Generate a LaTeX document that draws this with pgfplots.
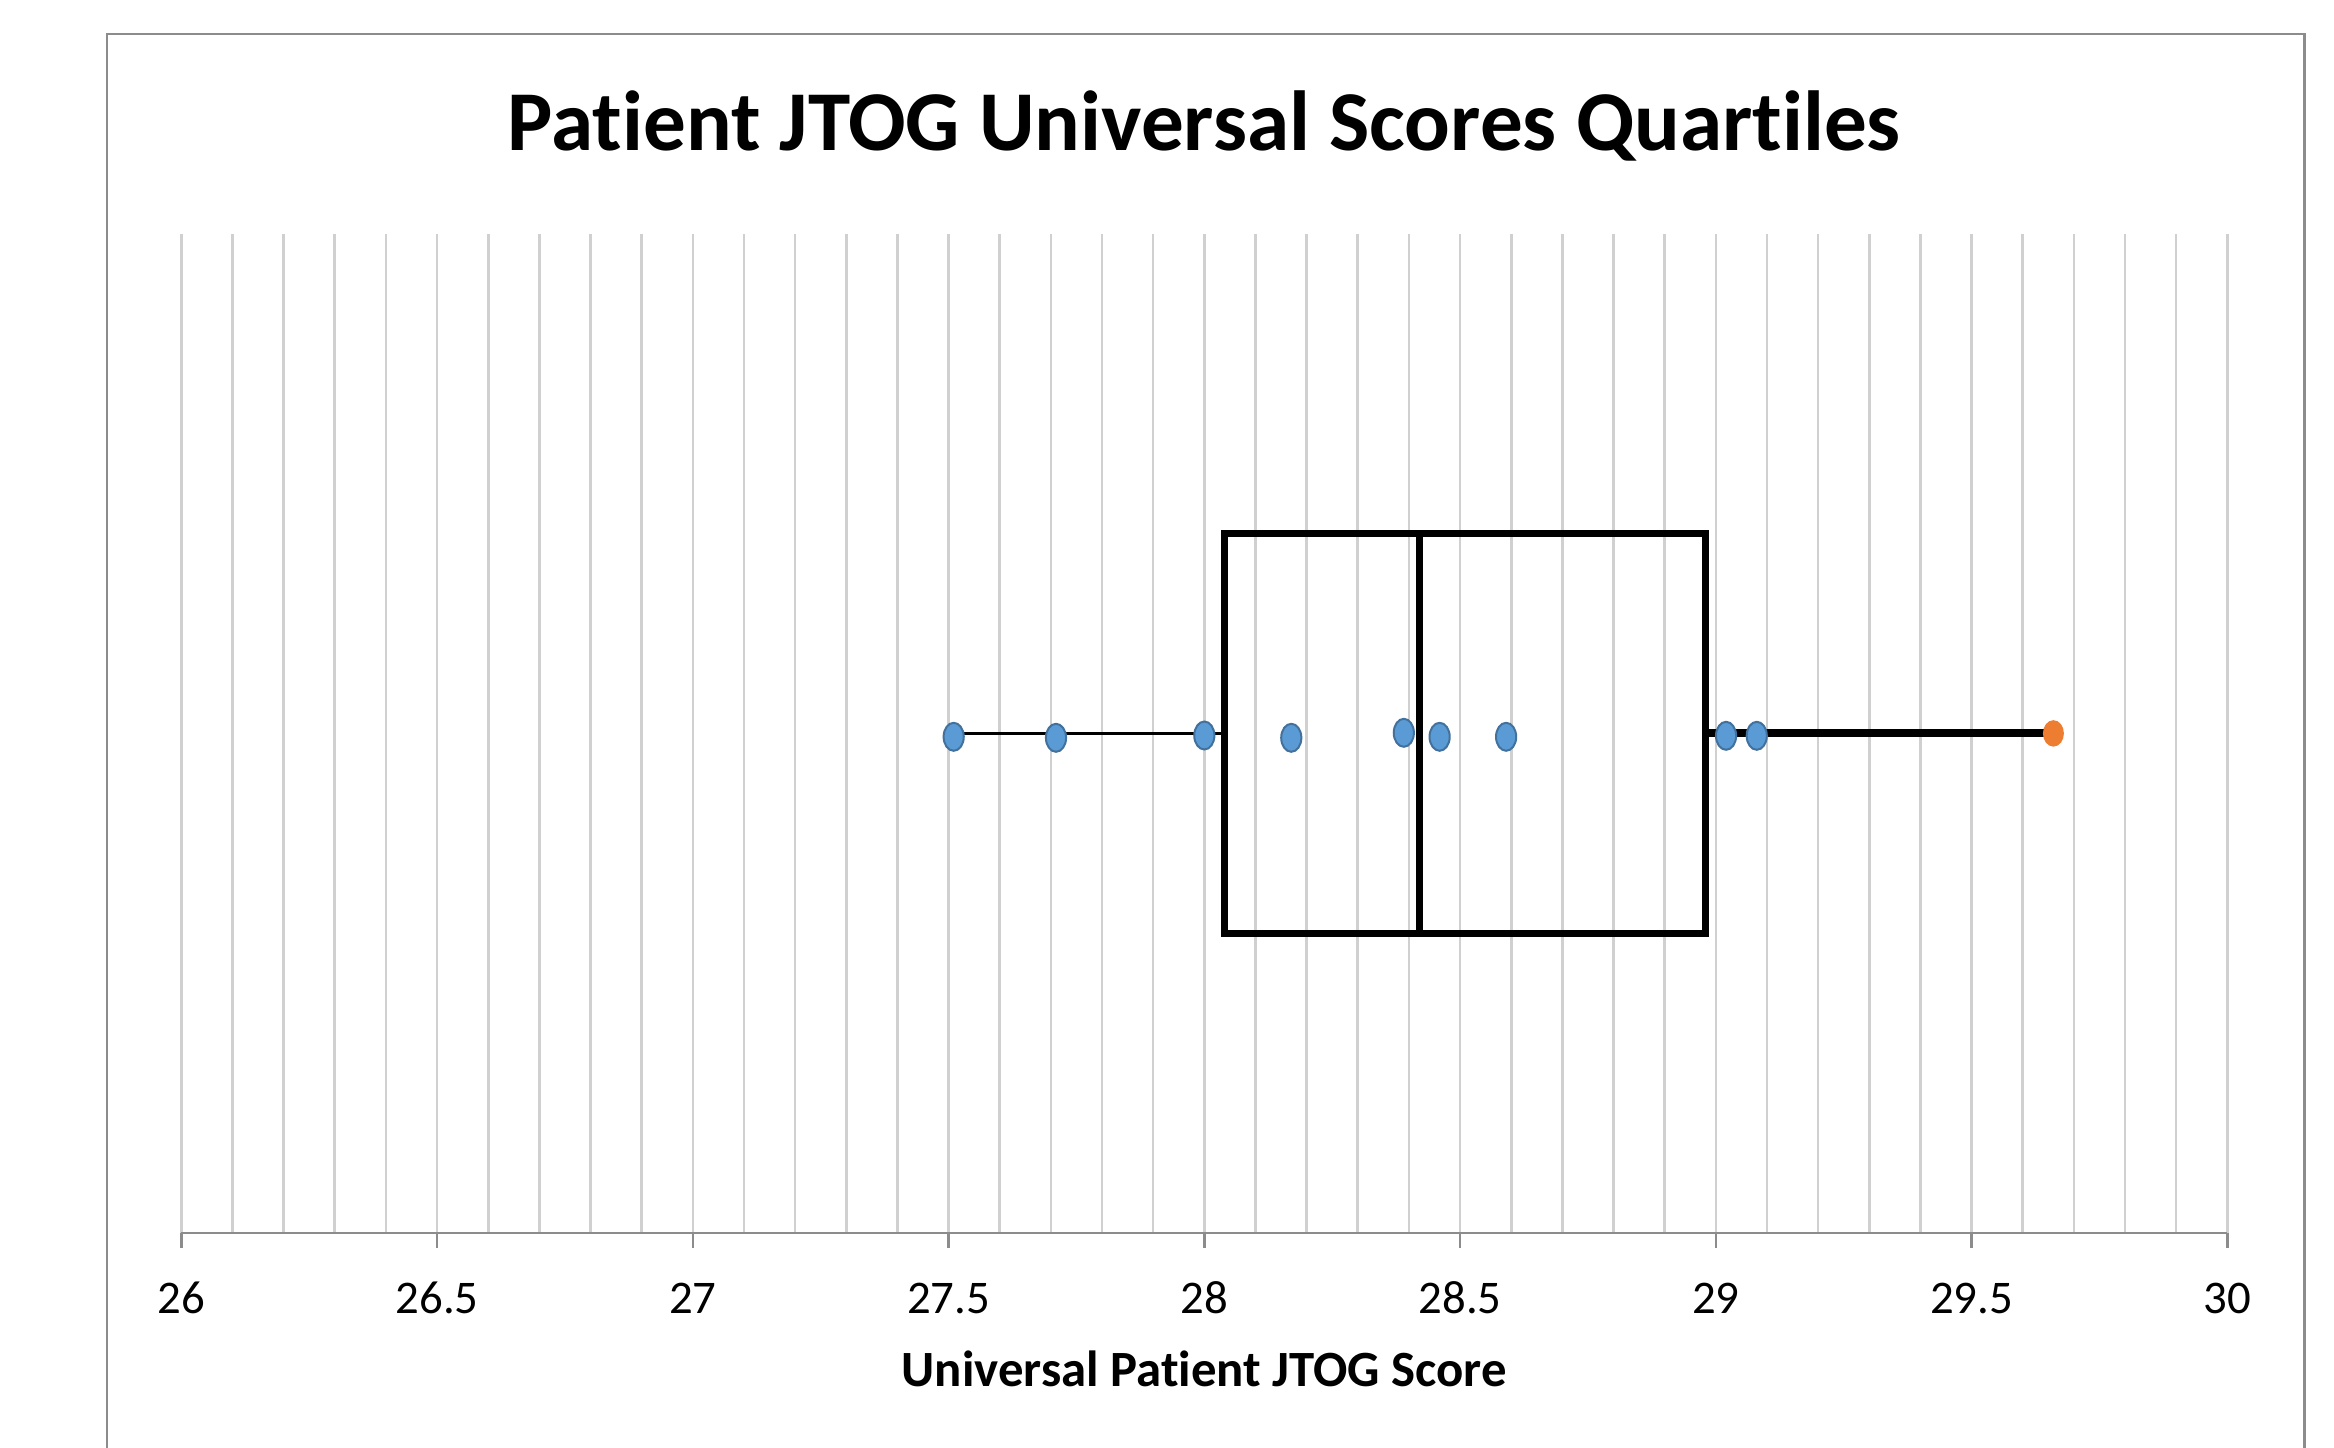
\documentclass[border=0pt]{standalone}
\usepackage{pgfplots}
\pgfplotsset{compat=1.18}
\usepackage{fontspec}
\setmainfont{Carlito}[Ligatures={NoCommon}]
\definecolor{ptblue}{HTML}{5B9BD5}
\definecolor{ptedge}{HTML}{41719C}
\definecolor{ptorange}{HTML}{ED7D31}
\definecolor{gridc}{HTML}{D0D0D0}
\definecolor{axc}{HTML}{8C8C8C}
\definecolor{framec}{HTML}{8C8C8C}
\begin{document}
\begin{tikzpicture}
\useasboundingbox (0,0) rectangle (583.5pt,361.75pt);
\fill[white] (0,0) rectangle (583.5pt,361.75pt);
\draw[framec, line width=0.65pt] (26.75pt,-2pt) -- (26.75pt,353.25pt) -- (576.1pt,353.25pt) -- (576.1pt,-2pt);
\begin{axis}[
  at={(45.33pt,53.5pt)}, anchor=south west,
  scale only axis, width=511.5pt, height=249.8pt,
  xmin=26, xmax=30, ymin=0, ymax=1,
  axis x line=bottom, axis y line=none, ytick=\empty,
  x axis line style={-, axc, line width=0.65pt},
  xtick={26,26.5,...,30},
  minor x tick num=4,
  xmajorgrids, xminorgrids,
  major grid style={gridc, line width=0.65pt},
  minor grid style={gridc, line width=0.65pt},
  tick align=outside,
  major tick length=3.8pt, minor tick length=0pt,
  xtick style={axc, line width=0.65pt},
  /pgf/number format/assume math mode=true,
  xticklabel style={font=\fontsize{11.7}{12}\selectfont, anchor=base, yshift=-16.2pt},
  title={Patient JTOG Universal Scores Quartiles},
  title style={font=\bfseries\fontsize{21.3}{24}\selectfont, at={(0.5,1)}, anchor=base, yshift=14.7pt},
  xlabel={Universal Patient JTOG Score},
  xlabel style={font=\bfseries\fontsize{12.7}{14}\selectfont, at={(axis description cs:0.5,0)}, anchor=base, yshift=-38.3pt},
]
\addplot[black, line width=0.7pt] coordinates {(27.51,0.5) (28.04,0.5)};
\addplot[black, line width=2pt] coordinates {(28.98,0.5) (29.66,0.5)};
\addplot[black, line width=1.8pt, line join=miter] coordinates {(28.51,0.3) (28.98,0.3) (28.98,0.7) (28.04,0.7) (28.04,0.3) (28.51,0.3)};
\addplot[black, line width=1.8pt] coordinates {(28.42,0.3) (28.42,0.7)};
\addplot[only marks, mark=*, mark size=3.5pt, mark options={xscale=0.72, fill=ptblue, draw=ptedge, line width=0.5pt}] coordinates {
(27.51,0.4966) (27.71,0.4956) (28.00,0.4979) (28.17,0.4956) (28.39,0.5006) (28.46,0.4966) (28.59,0.4966) (29.02,0.4976) (29.08,0.4976)};
\addplot[only marks, mark=*, mark size=3.1pt, mark options={xscale=0.78, fill=ptorange, draw=ptorange}] coordinates {(29.66,0.5)};
\end{axis}
\end{tikzpicture}
\end{document}
